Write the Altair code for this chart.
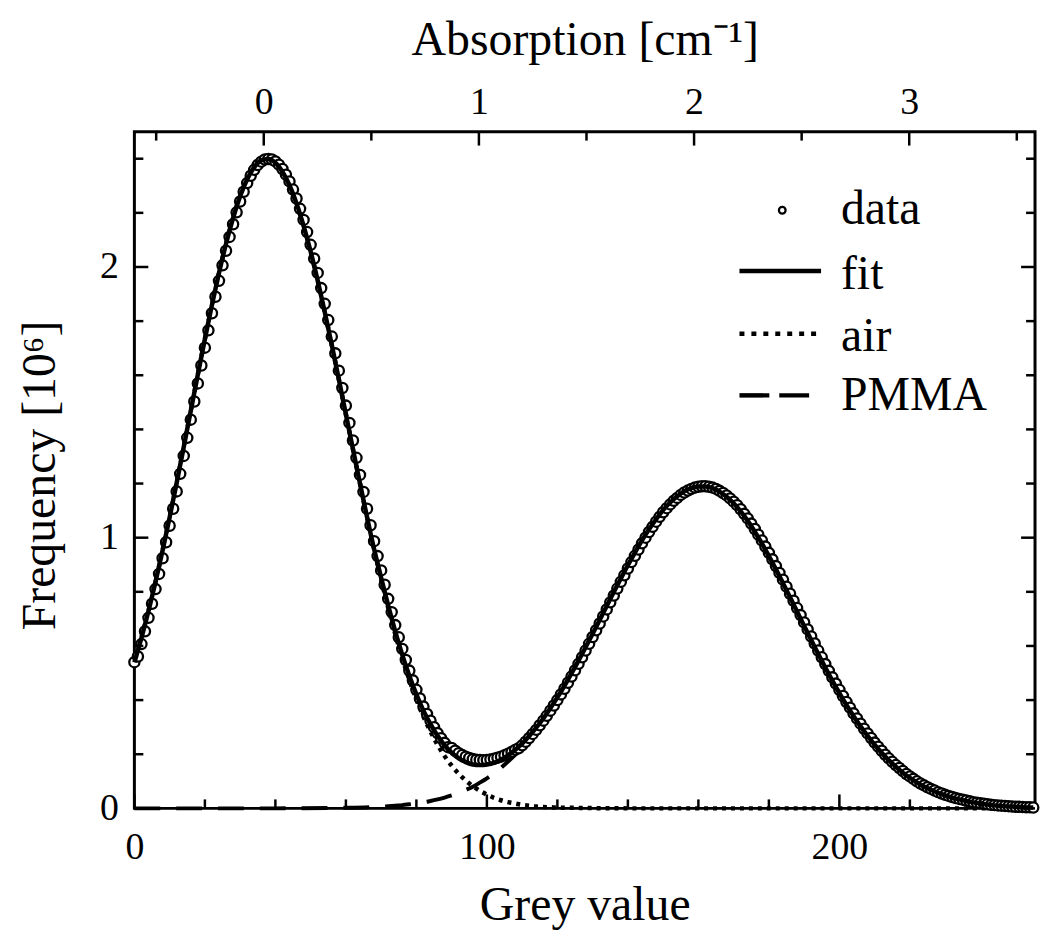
import altair as alt
import pandas as pd

# ---------------- data ----------------
grey_data = list(range(256))
freq_data = [
    0.540, 0.561, 0.607, 0.654, 0.704, 0.756, 0.810, 0.866, 0.924, 0.983,
    1.044, 1.107, 1.171, 1.236, 1.302, 1.369, 1.436, 1.503, 1.570, 1.636,
    1.702, 1.766, 1.829, 1.890, 1.949, 2.006, 2.060, 2.111, 2.158, 2.202,
    2.242, 2.278, 2.310, 2.337, 2.359, 2.377, 2.389, 2.397, 2.399, 2.397,
    2.390, 2.378, 2.362, 2.341, 2.316, 2.286, 2.253, 2.215, 2.174, 2.129,
    2.082, 2.031, 1.978, 1.922, 1.864, 1.804, 1.743, 1.681, 1.617, 1.553,
    1.488, 1.424, 1.359, 1.295, 1.232, 1.169, 1.107, 1.046, 0.987, 0.932,
    0.879, 0.826, 0.774, 0.725, 0.677, 0.632, 0.589, 0.548, 0.509, 0.473,
    0.438, 0.406, 0.376, 0.349, 0.324, 0.300, 0.278, 0.259, 0.242, 0.226,
    0.223, 0.213, 0.204, 0.197, 0.191, 0.186, 0.182, 0.180, 0.179, 0.178,
    0.179, 0.181, 0.183, 0.187, 0.191, 0.196, 0.202, 0.208, 0.216, 0.222,
    0.233, 0.246, 0.260, 0.275, 0.290, 0.307, 0.324, 0.342, 0.361, 0.380,
    0.400, 0.421, 0.442, 0.464, 0.487, 0.510, 0.534, 0.558, 0.583, 0.608,
    0.633, 0.658, 0.683, 0.709, 0.735, 0.761, 0.786, 0.812, 0.837, 0.861,
    0.886, 0.910, 0.933, 0.956, 0.979, 1.000, 1.021, 1.040, 1.059, 1.077,
    1.094, 1.109, 1.123, 1.136, 1.147, 1.158, 1.167, 1.174, 1.180, 1.185,
    1.188, 1.190, 1.190, 1.188, 1.185, 1.180, 1.173, 1.165, 1.156, 1.145,
    1.133, 1.120, 1.105, 1.088, 1.071, 1.052, 1.032, 1.011, 0.990, 0.967,
    0.944, 0.920, 0.895, 0.870, 0.845, 0.819, 0.793, 0.767, 0.740, 0.714,
    0.687, 0.661, 0.635, 0.609, 0.583, 0.558, 0.533, 0.508, 0.484, 0.461,
    0.438, 0.415, 0.393, 0.372, 0.351, 0.332, 0.313, 0.294, 0.277, 0.260,
    0.243, 0.228, 0.213, 0.198, 0.185, 0.172, 0.160, 0.149, 0.138, 0.127,
    0.118, 0.109, 0.100, 0.092, 0.085, 0.078, 0.072, 0.066, 0.060, 0.055,
    0.050, 0.046, 0.042, 0.038, 0.035, 0.032, 0.029, 0.026, 0.023, 0.021,
    0.019, 0.017, 0.015, 0.013, 0.012, 0.011, 0.010, 0.009, 0.008, 0.007,
    0.006, 0.006, 0.005, 0.004, 0.004, 0.003,
]

grey_fit = list(range(0, 256, 2)) + [255]
freq_fit = [
    0.539, 0.630, 0.729, 0.837, 0.953, 1.075, 1.203, 1.335, 1.469, 1.603,
    1.734, 1.860, 1.978, 2.086, 2.181, 2.261, 2.324, 2.369, 2.394, 2.399,
    2.385, 2.352, 2.302, 2.235, 2.152, 2.057, 1.950, 1.834, 1.712, 1.585,
    1.456, 1.327, 1.200, 1.076, 0.958, 0.852, 0.749, 0.654, 0.567, 0.490,
    0.421, 0.361, 0.311, 0.268, 0.233, 0.206, 0.185, 0.171, 0.162, 0.160,
    0.162, 0.168, 0.180, 0.196, 0.216, 0.239, 0.267, 0.298, 0.332, 0.370,
    0.410, 0.453, 0.499, 0.546, 0.595, 0.645, 0.696, 0.748, 0.799, 0.849,
    0.898, 0.945, 0.990, 1.031, 1.068, 1.102, 1.130, 1.153, 1.171, 1.183,
    1.189, 1.189, 1.183, 1.170, 1.151, 1.127, 1.097, 1.062, 1.022, 0.979,
    0.932, 0.883, 0.832, 0.780, 0.727, 0.674, 0.622, 0.570, 0.520, 0.472,
    0.426, 0.382, 0.341, 0.303, 0.268, 0.235, 0.205, 0.178, 0.154, 0.132,
    0.113, 0.096, 0.081, 0.069, 0.057, 0.048, 0.040, 0.033, 0.027, 0.022,
    0.018, 0.014, 0.011, 0.009, 0.007, 0.006, 0.004, 0.003,
    0.003,
]

grey_air = list(range(0, 122, 2)) + [125, 130, 140, 160, 180, 200, 220, 240, 255]
freq_air = [
    0.539, 0.630, 0.729, 0.837, 0.953, 1.075, 1.203, 1.335, 1.469, 1.603,
    1.734, 1.860, 1.978, 2.086, 2.181, 2.261, 2.324, 2.369, 2.394, 2.399,
    2.385, 2.352, 2.302, 2.235, 2.152, 2.057, 1.950, 1.834, 1.712, 1.585,
    1.456, 1.327, 1.200, 1.076, 0.958, 0.846, 0.741, 0.644, 0.555, 0.475,
    0.403, 0.339, 0.284, 0.235, 0.193, 0.158, 0.128, 0.103, 0.082, 0.065,
    0.051, 0.039, 0.030, 0.023, 0.018, 0.013, 0.010, 0.007, 0.005, 0.004,
    0.003,
    0.002, 0.001, 0.000, 0.000, 0.000, 0.000, 0.000, 0.000, 0.000,
]

grey_pmma = [0, 20, 40, 60] + list(range(70, 256, 2)) + [255]
freq_pmma = [
    0.000, 0.000, 0.000, 0.002,
    0.006, 0.008, 0.010, 0.012, 0.015, 0.018, 0.022, 0.027, 0.033, 0.040,
    0.048, 0.057, 0.068, 0.080, 0.095, 0.111, 0.129, 0.150, 0.173, 0.198,
    0.226, 0.257, 0.291, 0.327, 0.366, 0.407, 0.451, 0.497, 0.545, 0.594,
    0.645, 0.696, 0.748, 0.799, 0.849, 0.898, 0.945, 0.990, 1.031, 1.068,
    1.102, 1.130, 1.153, 1.171, 1.183, 1.189, 1.189, 1.183, 1.170, 1.151,
    1.127, 1.097, 1.062, 1.022, 0.979, 0.932, 0.883, 0.832, 0.780, 0.727,
    0.674, 0.622, 0.570, 0.520, 0.472, 0.426, 0.382, 0.341, 0.303, 0.268,
    0.235, 0.205, 0.178, 0.154, 0.132, 0.113, 0.096, 0.081, 0.069, 0.057,
    0.048, 0.040, 0.033, 0.027, 0.022, 0.018, 0.014, 0.011, 0.009, 0.007,
    0.006, 0.004, 0.003,
    0.003,
]

x_major = [0, 100, 200]
x_minor = [20, 40, 60, 80, 120, 140, 160, 180, 220, 240]
y_major = [0, 1, 2]
y_minor = [0.2, 0.4, 0.6, 0.8, 1.2, 1.4, 1.6, 1.8, 2.2, 2.4]
abs_major = [0, 1, 2, 3]
abs_minor = [-0.5, 0.5, 1.5, 2.5, 3.5]

legend_labels = ["data", "fit", "air", "PMMA"]

# ---------------- styling ----------------
FONT = "Liberation Serif"
W, H = 905, 680
MAJ, MIN = 14, 9
TICKW = 2.5
LABEL_SIZE = 38

df_data = pd.DataFrame({"g": grey_data, "f": freq_data})
df_fit = pd.DataFrame({"g": grey_fit, "f": freq_fit})
df_air = pd.DataFrame({"g": grey_air, "f": freq_air})
df_pmma = pd.DataFrame({"g": grey_pmma, "f": freq_pmma})
one = pd.DataFrame({"k": [0]})

xs = alt.Scale(domain=[0, 255.5], nice=False, zero=False)
ys = alt.Scale(domain=[0, 2.5], nice=False, zero=False)

x_axis = alt.Axis(
    orient="bottom", values=x_major, format="d", ticks=False, tickSize=0,
    domain=False, grid=False, labelFont=FONT, labelFontSize=LABEL_SIZE,
    labelColor="black", labelPadding=50, labelBaseline="alphabetic",
    labelFlush=False, labelAlign="center",
    title="Grey value", titleFont=FONT, titleFontSize=48,
    titleFontWeight="normal", titleColor="black", titleX=W / 2, titleY=112,
    titleAlign="center", titleBaseline="alphabetic",
)
y_axis = alt.Axis(
    orient="left", values=y_major, format="d", ticks=False, tickSize=0,
    domain=False, grid=False, labelFont=FONT, labelFontSize=LABEL_SIZE,
    labelColor="black", labelPadding=16, labelAlign="right",
    labelBaseline="middle", labelFlush=False,
    title="Frequency [10⁶]", titleFont=FONT, titleFontSize=48,
    titleFontWeight="normal", titleColor="black", titleAngle=-90,
    titleX=-80, titleY=345, titleAlign="center", titleBaseline="alphabetic",
)
top_axis = alt.Axis(
    orient="top", values=abs_major, format="d", ticks=False, tickSize=0,
    domain=False, grid=False, labelFont=FONT, labelFontSize=LABEL_SIZE,
    labelColor="black", labelPadding=18, labelBaseline="alphabetic",
    labelFlush=False, labelAlign="center",
    title="Absorption [cm⁻¹]", titleFont=FONT, titleFontSize=48,
    titleFontWeight="normal", titleColor="black", titleX=W / 2, titleY=-78,
    titleAlign="center", titleBaseline="alphabetic",
)

X = alt.X("g:Q", scale=xs, axis=x_axis)
Y = alt.Y("f:Q", scale=ys, axis=y_axis)
XT = alt.X("a:Q", scale=alt.Scale(domain=[-0.6013, 3.5847], nice=False, zero=False),
           axis=top_axis)

pmma = alt.Chart(df_pmma).mark_line(
    color="black", strokeWidth=4, strokeDash=[26, 16], interpolate="monotone"
).encode(x=X, y=Y)
air = alt.Chart(df_air).mark_line(
    color="black", strokeWidth=4.5, strokeDash=[4, 5], interpolate="monotone"
).encode(x=X, y=Y)
pts = alt.Chart(df_data).mark_point(
    shape="circle", filled=True, fill="white", stroke="black",
    strokeWidth=2.3, size=105, opacity=1
).encode(x=X, y=Y)
fit = alt.Chart(df_fit).mark_line(
    color="black", strokeWidth=4.5, interpolate="monotone"
).encode(x=X, y=Y)

def xticks(vals, ln):
    return alt.Chart(pd.DataFrame({"g": vals})).mark_rule(
        color="black", strokeWidth=TICKW
    ).encode(x=X, y=alt.value(H), y2=alt.value(H - ln))

def yticks(vals, ln, right=False):
    if right:
        xx, xx2 = alt.value(W), alt.value(W - ln)
    else:
        xx, xx2 = alt.value(0), alt.value(ln)
    return alt.Chart(pd.DataFrame({"f": vals})).mark_rule(
        color="black", strokeWidth=TICKW
    ).encode(y=Y, x=xx, x2=xx2)

def topticks(vals, ln):
    return alt.Chart(pd.DataFrame({"a": vals})).mark_rule(
        color="black", strokeWidth=TICKW
    ).encode(x=XT, y=alt.value(0), y2=alt.value(ln))

# legend
LX0, LX1, LT = 608, 690, 710
leg_pt = alt.Chart(one).mark_point(
    shape="circle", filled=True, fill="white", stroke="black",
    strokeWidth=2.3, size=45, opacity=1
).encode(x=alt.value(651), y=alt.value(79))
leg_fit = alt.Chart(one).mark_rule(color="black", strokeWidth=4.5).encode(
    x=alt.value(LX0), x2=alt.value(LX1), y=alt.value(140))
leg_air = alt.Chart(one).mark_rule(color="black", strokeWidth=4.5, strokeDash=[5, 7]).encode(
    x=alt.value(LX0), x2=alt.value(LX1), y=alt.value(203))
leg_pmma = alt.Chart(one).mark_rule(color="black", strokeWidth=4.5, strokeDash=[30, 10]).encode(
    x=alt.value(LX0), x2=alt.value(LX1 - 7), y=alt.value(265))

def leg_text(label, ybase):
    return alt.Chart(one).mark_text(
        text=label, align="left", baseline="alphabetic", font=FONT,
        fontSize=48, color="black"
    ).encode(x=alt.value(LT), y=alt.value(ybase))

main = alt.layer(
    pmma, air, pts, fit,
    xticks(x_major, MAJ), xticks(x_minor, MIN),
    yticks(y_major, MAJ), yticks(y_minor, MIN),
    yticks(y_major, MAJ, True), yticks(y_minor, MIN, True),
    leg_pt, leg_fit, leg_air, leg_pmma,
    leg_text(legend_labels[0], 93), leg_text(legend_labels[1], 158),
    leg_text(legend_labels[2], 220), leg_text(legend_labels[3], 280),
)
top = alt.layer(topticks(abs_major, MAJ), topticks(abs_minor, MIN))

chart = alt.layer(main, top).resolve_scale(x="independent").properties(
    width=W, height=H,
    padding={"left": 127, "top": 122, "right": 5, "bottom": 125},
    autosize=alt.AutoSizeParams(type="none"),
).configure(font=FONT).configure_view(stroke="black", strokeWidth=3)

chart.save("out.html", embed_options={"renderer": "svg", "actions": False})
